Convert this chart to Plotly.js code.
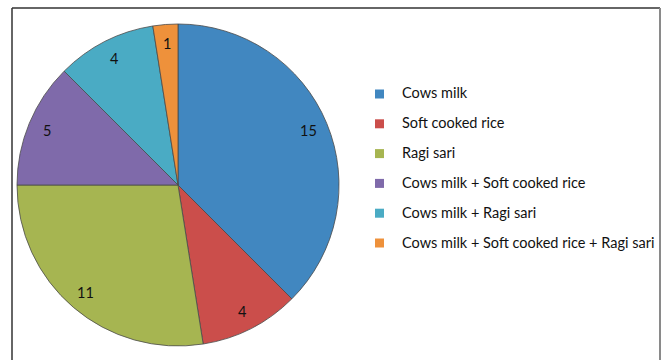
<!DOCTYPE html>
<html>
<head>
<meta charset="utf-8">
<script src="https://cdn.plot.ly/plotly-3.0.1.min.js"></script>
<style>html,body{margin:0;padding:0;background:#fff;}#chart{width:667px;height:360px;}</style>
</head>
<body>
<div id="chart"></div>
<script>
const categories = ["Cows milk", "Soft cooked rice", "Ragi sari", "Cows milk + Soft cooked rice", "Cows milk + Ragi sari", "Cows milk + Soft cooked rice + Ragi sari"];
const values = [15, 4, 11, 5, 4, 1];
const colors = ["#4187C0", "#CB4E4B", "#A6B551", "#7F6AAA", "#4AABC4", "#EE913B"];

const W = 667, H = 360;
const FONT = "Lato, 'Open Sans', sans-serif";
const CX = 178, CY = 185, R = 161;

const trace = {
  type: "pie",
  labels: categories,
  values: values,
  sort: false,
  direction: "clockwise",
  rotation: 0,
  marker: {colors: colors, line: {color: "#4a4a4a", width: 0.8}},
  textinfo: "none",
  domain: {x: [(CX - R)/W, (CX + R)/W], y: [1 - (CY + R)/H, 1 - (CY - R)/H]},
  showlegend: false,
  hoverinfo: "label+value"
};

// data labels placed along each slice's mid-angle (Excel "best fit" style)
const total = values.reduce((a, b) => a + b, 0);
let cum = 0;
const labelAnn = values.map(v => {
  const mid = (cum + v / 2) / total * 2 * Math.PI;
  cum += v;
  const r = 0.88 * R;
  return {
    xref: "paper", yref: "paper",
    x: (CX + r * Math.sin(mid)) / W, y: 1 - (CY - r * Math.cos(mid)) / H,
    xanchor: "center", yanchor: "middle",
    text: String(v), showarrow: false,
    font: {family: FONT, size: 14.5, color: "#111"}
  };
});

// legend drawn from the category & colour arrays
const legendX = 400, legendY0 = 93, legendStep = 29.8, sq = 9, sqX = 375;
const legendAnn = categories.map((c, i) => ({
  xref: "paper", yref: "paper",
  x: legendX / W, y: 1 - (legendY0 + i * legendStep) / H,
  xanchor: "left", yanchor: "middle",
  text: c, showarrow: false,
  font: {family: FONT, size: 14.5, color: "#111"}
}));
const shapes = categories.map((c, i) => {
  const cy = legendY0 + i * legendStep + 1;
  return {
    type: "rect", xref: "paper", yref: "paper",
    x0: sqX / W, x1: (sqX + sq) / W,
    y0: 1 - (cy - sq / 2) / H, y1: 1 - (cy + sq / 2) / H,
    fillcolor: colors[i], line: {width: 0}
  };
});
// frame
shapes.push({type: "line", xref: "paper", yref: "paper", x0: 12/W, x1: 660/W, y0: 1 - 8/H, y1: 1 - 8/H, line: {color: "#333", width: 1.5}});
shapes.push({type: "line", xref: "paper", yref: "paper", x0: 12/W, x1: 12/W, y0: 1 - 8/H, y1: -0.05, line: {color: "#333", width: 1.5}});
shapes.push({type: "line", xref: "paper", yref: "paper", x0: 660/W, x1: 660/W, y0: 1 - 8/H, y1: -0.05, line: {color: "#8a8a8a", width: 2}});

const layout = {
  width: W, height: H,
  margin: {l: 0, r: 0, t: 0, b: 0},
  paper_bgcolor: "#fff",
  showlegend: false,
  annotations: labelAnn.concat(legendAnn),
  shapes: shapes,
  font: {family: FONT}
};

Plotly.newPlot("chart", [trace], layout, {displayModeBar: false, staticPlot: true});
</script>
</body>
</html>
